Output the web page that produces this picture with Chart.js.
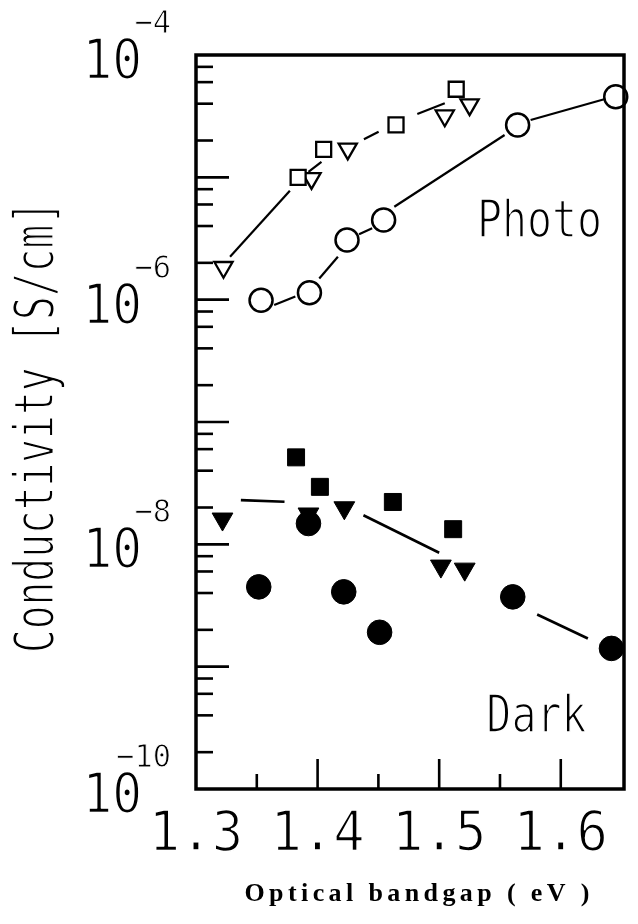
<!DOCTYPE html>
<html>
<head>
<meta charset="utf-8">
<script src="https://cdn.jsdelivr.net/npm/chart.js@4/dist/chart.umd.min.js"></script>
<style>
  html, body { margin: 0; padding: 0; background: #fff; }
  #wrap { width: 638px; height: 924px; }
</style>
</head>
<body>
<div id="wrap"><canvas id="c" width="638" height="924"></canvas></div>
<script>
// Photoconductivity (open symbols)
const photoSquareX   = [1.384, 1.405, 1.4645, 1.514];
const photoSquareY   = [1.0e-5, 1.69e-5, 2.68e-5, 5.25e-5];
const photoTriangleX = [1.3226, 1.395, 1.4248, 1.5046, 1.525];
const photoTriangleY = [1.84e-6, 9.8e-6, 1.71e-5, 3.19e-5, 3.93e-5];
const photoCircleX   = [1.3535, 1.3933, 1.4242, 1.4543, 1.5645, 1.6452];
const photoCircleY   = [9.9e-7, 1.14e-6, 3.07e-6, 4.48e-6, 2.68e-5, 4.56e-5];

// Dark conductivity (filled symbols)
const darkSquareX   = [1.3823, 1.4019, 1.4619, 1.5115];
const darkSquareY   = [5.14e-8, 2.95e-8, 2.22e-8, 1.33e-8];
const darkTriangleX = [1.3218, 1.3925, 1.422, 1.5014, 1.521];
const darkTriangleY = [1.61e-8, 1.77e-8, 1.99e-8, 6.64e-9, 6.27e-9];
const darkCircleX   = [1.3516, 1.3925, 1.4215, 1.451, 1.5605, 1.6417];
const darkCircleY   = [4.49e-9, 1.48e-8, 4.09e-9, 1.91e-9, 3.72e-9, 1.41e-9];

// Guide strokes between symbols: [x0, y0, x1, y1]
const photoGuides = [
  [1.328, 2.24e-6, 1.3772, 7.76e-6],
  [1.3925, 1.11e-5, 1.4032, 1.34e-5],
  [1.4381, 2.05e-5, 1.4502, 2.36e-5],
  [1.482, 3.30e-5, 1.5046, 4.03e-5],
  [1.3643, 9.04e-7, 1.3817, 1.06e-6],
  [1.4014, 1.49e-6, 1.4167, 2.24e-6],
  [1.4341, 3.43e-6, 1.4449, 3.83e-6],
  [1.4631, 5.75e-6, 1.5538, 2.22e-5],
  [1.5752, 2.94e-5, 1.6357, 4.35e-5]
];
const darkGuides = [
  [1.3369, 2.30e-8, 1.3728, 2.23e-8],
  [1.4377, 1.73e-8, 1.5, 8.53e-9],
  [1.5806, 2.67e-9, 1.6223, 1.70e-9]
];

// Axes
const xMin = 1.3, xMax = 1.652;
const xTickLabels = ['1.3', '1.4', '1.5', '1.6'];
const xMajorTicks = [1.4, 1.5, 1.6];
const xMinorTicks = [1.35, 1.45, 1.55];
const yDecades = [-10, -9, -8, -7, -6, -5, -4];
const yLabelExponents = [-10, -8, -6, -4];
const yMinorMultipliers = [2, 4, 6, 8];

// Region labels: [text, x, y]
const regionLabels = [
  ['Photo', 1.5825, 3.25e-6],
  ['Dark', 1.5800, 2.91e-10]
];

const MONO = '"DejaVu Sans Mono", monospace';

const pts = (xs, ys) => xs.map((x, i) => ({ x, y: ys[i] }));

function markers(label, xs, ys, style) {
  return Object.assign({
    label, data: pts(xs, ys), showLine: false, clip: false, order: 1,
    pointBorderColor: '#000', pointHoverRadius: 0
  }, style);
}

function guides(list, width) {
  return list.map((g, i) => ({
    label: 'guide' + i,
    data: [{ x: g[0], y: g[1] }, { x: g[2], y: g[3] }],
    showLine: true, pointRadius: 0, borderColor: '#000', borderWidth: width,
    tension: 0, fill: false, order: 2, clip: false
  }));
}

// Plotter-style lettering: a mono face squeezed horizontally, with its
// strokes thinned by a white outline pass.
function drawText(ctx, text, x, y, size, sx, align, thin) {
  ctx.save();
  ctx.translate(x, y);
  ctx.scale(sx, 1);
  ctx.font = size + 'px ' + MONO;
  ctx.textAlign = align;
  ctx.textBaseline = 'alphabetic';
  ctx.fillStyle = '#000';
  ctx.fillText(text, 0, 0);
  ctx.strokeStyle = '#fff';
  ctx.lineJoin = 'round';
  ctx.lineWidth = thin;
  ctx.strokeText(text, 0, 0);
  ctx.restore();
}

const frameAndText = {
  id: 'frameAndText',
  beforeDraw(chart) {
    const ctx = chart.ctx;
    ctx.save();
    ctx.fillStyle = '#fff';
    ctx.fillRect(0, 0, chart.width, chart.height);
    ctx.restore();
  },
  afterDraw(chart) {
    const ctx = chart.ctx;
    const a = chart.chartArea;
    const xs = chart.scales.x, ys = chart.scales.y;

    // lettering first, so the frame and ticks stay crisp
    xTickLabels.forEach(t => {
      const px = xs.getPixelForValue(parseFloat(t));
      drawText(ctx, t, px, 850, 55, 0.95, 'center', 1.6);
    });
    yLabelExponents.forEach(e => {
      const py = ys.getPixelForValue(Math.pow(10, e));
      drawText(ctx, '10', 142, py + 23, 55, 0.9, 'right', 1.6);
      drawText(ctx, '\u2212' + Math.abs(e), 171, py - 22, 32, 0.95, 'right', 0.9);
    });
    regionLabels.forEach(([t, x, y]) => {
      drawText(ctx, t, xs.getPixelForValue(x), ys.getPixelForValue(y), 52, 0.8, 'center', 1.7);
    });

    // y axis title
    ctx.save();
    ctx.font = '55px ' + MONO;
    const w = ctx.measureText('Conductivity [S/cm]').width;
    ctx.translate(53, 427);
    ctx.rotate(-Math.PI / 2);
    drawText(ctx, 'Conductivity [S/cm]', 0, 0, 55, 452 / w, 'center', 1.8);
    ctx.restore();

    // x axis title, letter-spaced serif
    ctx.save();
    const title = 'Optical bandgap ( eV )';
    ctx.font = 'bold 26px "Liberation Serif", "Times New Roman", serif';
    const natural = ctx.measureText(title).width;
    const target = 345;
    const gap = (target - natural) / (title.length - 1);
    ctx.fillStyle = '#000';
    ctx.textBaseline = 'alphabetic';
    ctx.textAlign = 'left';
    let cx = 417 - target / 2;
    for (const ch of title) {
      ctx.fillText(ch, cx, 901);
      cx += ctx.measureText(ch).width + gap;
    }
    ctx.restore();

    ctx.save();
    ctx.strokeStyle = '#000';
    ctx.lineCap = 'butt';

    // inward ticks on the bottom axis
    ctx.lineWidth = 2.6;
    const tickX = (v, len) => {
      const px = xs.getPixelForValue(v);
      ctx.beginPath(); ctx.moveTo(px, a.bottom); ctx.lineTo(px, a.bottom - len); ctx.stroke();
    };
    xMajorTicks.forEach(v => tickX(v, 30));
    xMinorTicks.forEach(v => tickX(v, 15));

    // inward ticks on the left axis
    const tickY = (v, len) => {
      const py = ys.getPixelForValue(v);
      ctx.beginPath(); ctx.moveTo(a.left, py); ctx.lineTo(a.left + len, py); ctx.stroke();
    };
    yDecades.forEach(d => {
      if (d > -10 && d < -4) tickY(Math.pow(10, d), 33);
      if (d < -4) yMinorMultipliers.forEach(m => tickY(m * Math.pow(10, d), 17));
    });

    // frame
    ctx.lineWidth = 3.5;
    ctx.strokeRect(a.left, a.top, a.right - a.left, a.bottom - a.top);
    ctx.restore();
  }
};

new Chart(document.getElementById('c'), {
  type: 'scatter',
  data: {
    datasets: [
      ...guides(photoGuides, 2.2),
      ...guides(darkGuides, 2.6),
      markers('Photo squares', photoSquareX, photoSquareY, {
        pointStyle: 'rect', pointRadius: 10.6, pointBackgroundColor: '#fff', pointBorderWidth: 2.3 }),
      markers('Photo triangles', photoTriangleX, photoTriangleY, {
        pointStyle: 'triangle', pointRotation: 180, pointRadius: 10.5, pointBackgroundColor: '#fff', pointBorderWidth: 2.3 }),
      markers('Photo circles', photoCircleX, photoCircleY, {
        pointStyle: 'circle', pointRadius: 11.5, pointBackgroundColor: '#fff', pointBorderWidth: 2.5 }),
      markers('Dark triangles', darkTriangleX, darkTriangleY, {
        pointStyle: 'triangle', pointRotation: 180, pointRadius: 12, pointBackgroundColor: '#000', pointBorderWidth: 1 }),
      markers('Dark squares', darkSquareX, darkSquareY, {
        pointStyle: 'rect', pointRadius: 12, pointBackgroundColor: '#000', pointBorderWidth: 1 }),
      markers('Dark circles', darkCircleX, darkCircleY, {
        pointStyle: 'circle', pointRadius: 12.3, pointBackgroundColor: '#000', pointBorderWidth: 1 })
    ]
  },
  options: {
    responsive: false,
    animation: false,
    events: [],
    layout: { padding: { left: 196, right: 5, top: 55, bottom: 135 } },
    scales: {
      x: { type: 'linear', min: xMin, max: xMax, display: false },
      y: { type: 'logarithmic', min: 1e-10, max: 1e-4, display: false }
    },
    plugins: { legend: { display: false }, tooltip: { enabled: false } }
  },
  plugins: [frameAndText]
});
</script>
</body>
</html>
